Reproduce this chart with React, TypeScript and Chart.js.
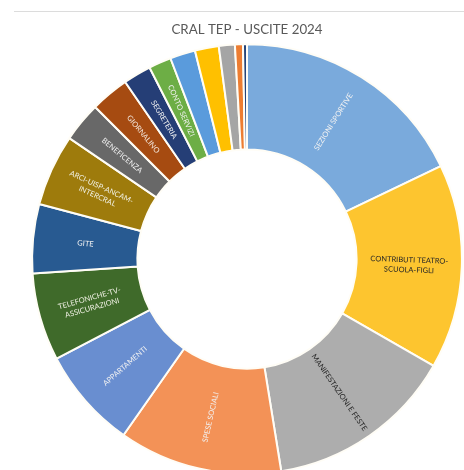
import React, { useEffect, useRef } from "react";
import { Chart, registerables } from "chart.js";

Chart.register(...registerables);

const TITLE = "CRAL TEP - USCITE 2024";

const CATEGORIES: string[] = [
  "SEZIONI SPORTIVE",
  "CONTRIBUTI TEATRO-SCUOLA-FIGLI",
  "MANIFESTAZIONI E FESTE",
  "SPESE SOCIALI",
  "APPARTAMENTI",
  "TELEFONICHE-TV-ASSICURAZIONI",
  "GITE",
  "ARCI-UISP-ANCAM-INTERCRAL",
  "BENEFICENZA",
  "GIORNALINO",
  "SEGRETERIA",
  "CONTO SERVIZI",
  "",
  "",
  "",
  "",
  "",
];

// Label lines as drawn inside each slice (empty = no visible label)
const SLICE_LABELS: string[][] = [
  ["SEZIONI SPORTIVE"],
  ["CONTRIBUTI TEATRO-", "SCUOLA-FIGLI"],
  ["MANIFESTAZIONI E FESTE"],
  ["SPESE SOCIALI"],
  ["APPARTAMENTI"],
  ["TELEFONICHE-TV-", "ASSICURAZIONI"],
  ["GITE"],
  ["ARCI-UISP-ANCAM-", "INTERCRAL"],
  ["BENEFICENZA"],
  ["GIORNALINO"],
  ["SEGRETERIA"],
  ["CONTO SERVIZI"],
  [],
  [],
  [],
  [],
  [],
];

// Share of total (%)
const VALUES: number[] = [
  17.9, 15.4, 14.2, 12.3, 7.6, 6.6, 5.2, 5.4, 3.0, 2.9, 2.1, 1.7, 1.9, 1.8, 1.2, 0.6, 0.3,
];

const COLORS: string[] = [
  "#7AAADC",
  "#FDC52F",
  "#ADADAD",
  "#F39257",
  "#698ED0",
  "#3F6A2A",
  "#285A91",
  "#9E7B0C",
  "#686868",
  "#A64B11",
  "#253E76",
  "#6DAE45",
  "#5A9BDC",
  "#FFC000",
  "#A5A5A5",
  "#ED7D31",
  "#264478",
];

const LABEL_COLORS: string[] = [
  "#F2F2F2",
  "#262626",
  "#262626",
  "#F2F2F2",
  "#F2F2F2",
  "#F2F2E6",
  "#F2F2F2",
  "#F2F2E6",
  "#F2F2F2",
  "#F2E6DC",
  "#F2F2F2",
  "#F2F2F2",
  "#FFFFFF",
  "#FFFFFF",
  "#FFFFFF",
  "#FFFFFF",
  "#FFFFFF",
];

const sliceLabelPlugin = {
  id: "sliceLabels",
  afterDatasetsDraw(chart: any) {
    const ctx = chart.ctx as CanvasRenderingContext2D;
    const meta = chart.getDatasetMeta(0);
    meta.data.forEach((arc: any, i: number) => {
      const lines = SLICE_LABELS[i];
      if (!lines || !lines.length) return;
      const p = arc.getProps(
        ["x", "y", "startAngle", "endAngle", "innerRadius", "outerRadius"],
        true
      );
      const mid = (p.startAngle + p.endAngle) / 2;
      const r = (p.innerRadius + p.outerRadius) / 2;
      const px = p.x + Math.cos(mid) * r;
      const py = p.y + Math.sin(mid) * r;
      let rot = mid;
      while (rot > Math.PI / 2) rot -= Math.PI;
      while (rot < -Math.PI / 2) rot += Math.PI;
      ctx.save();
      ctx.translate(px, py);
      ctx.rotate(rot);
      ctx.font = "7.5px Lato, 'Open Sans', sans-serif";
      ctx.fillStyle = LABEL_COLORS[i];
      ctx.textAlign = "center";
      ctx.textBaseline = "middle";
      const lh = 10;
      const off = ((lines.length - 1) * lh) / 2;
      lines.forEach((ln, k) => ctx.fillText(ln, 0, k * lh - off));
      ctx.restore();
    });
  },
};

export default function App() {
  const ref = useRef<HTMLCanvasElement | null>(null);

  useEffect(() => {
    if (!ref.current) return;
    const chart = new Chart(ref.current, {
      type: "doughnut",
      data: {
        labels: CATEGORIES,
        datasets: [
          {
            data: VALUES,
            backgroundColor: COLORS,
            borderColor: "#FFFDF6",
            borderWidth: 2,
          },
        ],
      },
      options: {
        responsive: false,
        animation: false,
        cutout: "51%",
        layout: { padding: { left: 31, right: 1, top: 0, bottom: 5 } },
        plugins: {
          legend: { display: false },
          tooltip: { enabled: false },
          title: {
            display: true,
            text: TITLE,
            color: "#595959",
            font: { family: "Lato, 'Open Sans', sans-serif", size: 13.3, weight: "normal" },
            padding: { top: 22, bottom: 5.2 },
          },
        },
      },
      plugins: [sliceLabelPlugin],
    });
    return () => chart.destroy();
  }, []);

  return (
    <div
      style={{
        position: "fixed",
        left: 0,
        top: 0,
        width: 464,
        height: 470,
        overflow: "hidden",
        background: "#FFFFFF",
      }}
    >
      <div
        style={{
          position: "absolute",
          left: 14,
          top: 11,
          width: 450,
          height: 0,
          borderTop: "1px solid #DCDCDC",
        }}
      />
      <canvas ref={ref} width={464} height={480} style={{ position: "absolute", left: 0, top: 0 }} />
    </div>
  );
}
